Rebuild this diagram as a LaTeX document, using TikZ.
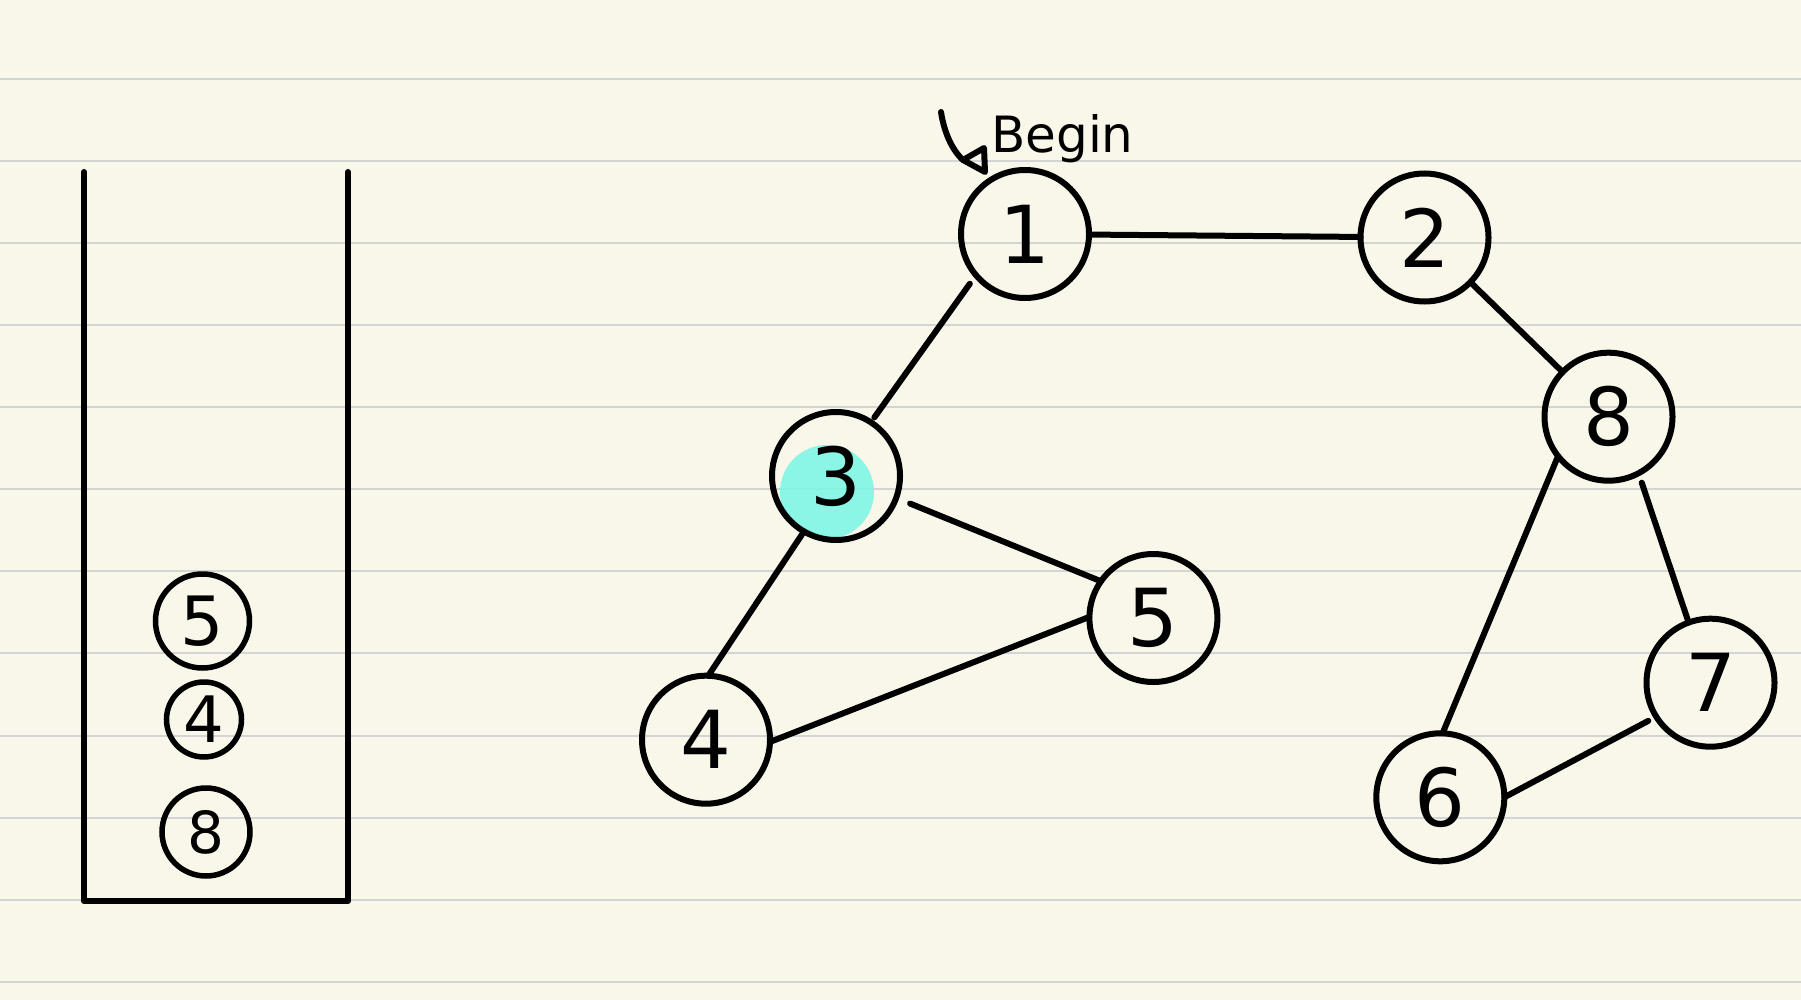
\documentclass[tikz,border=0pt]{standalone}
\usepackage{fontspec}
\setmainfont{DejaVu Sans}
\definecolor{paper}{RGB}{249,247,233}
\definecolor{rulecol}{RGB}{212,212,212}
\definecolor{mint}{RGB}{124,246,230}
\tikzset{
  vert/.style={circle, draw=black, line width=6pt, minimum size=128pt, inner sep=0pt, outer sep=0pt, font=\fontsize{80}{80}\selectfont},
  item/.style={circle, draw=black, line width=5.5pt, inner sep=0pt, outer sep=0pt},
  edge/.style={draw=black, line width=6pt, line cap=round, line join=round},
  rulerline/.style={draw=rulecol, line width=2.5pt},
  wall/.style={draw=black, line width=6pt, line cap=round, line join=round}
}
\begin{document}
\begin{tikzpicture}[x=1pt,y=-1pt]
\useasboundingbox (0,0) rectangle (1801,1000);
\fill[paper] (0,0) rectangle (1801,1000);
% ruled lines
\foreach \yy in {79,161,243,325,407,489,571,653,736,818,900,982}
  \draw[rulerline] (0,\yy) -- (1801,\yy);
% highlight on node 3
\fill[mint, opacity=0.88] (827,492) circle (47pt);
% stack
\draw[wall] (84,172) -- (84,901) -- (348,901) -- (348,172);
\node[item, minimum size=94pt, font=\fontsize{68}{68}\selectfont] (s5) at (202.5,621) {5};
\node[item, minimum size=75pt, font=\fontsize{64}{64}\selectfont] (s4) at (204,719.5) {4};
\node[item, minimum size=88pt, font=\fontsize{58}{58}\selectfont] (s8) at (206,832) {8};
% graph nodes
\node[vert] (n1) at (1025,234) {1};
\node[vert] (n2) at (1424.5,237.5) {2};
\node[vert] (n8) at (1608.5,416.7) {8};
\node[vert] (n3) at (836,476) {3};
\node[vert] (n5) at (1153.4,618) {5};
\node[vert] (n4) at (706,739.7) {4};
\node[vert] (n7) at (1710.5,682.7) {7};
\node[vert] (n6) at (1440.3,797.3) {6};
% edges
\draw[edge] (n1) -- (n2);
\draw[edge, shorten <=10.6pt, shorten >=6pt] (n1.220) -- (n3.57);
\draw[edge] (n2) -- (n8);
\draw[edge, shorten <=15pt] (n3.340) -- (n5.145);
\draw[edge] (n3.240) -- (n4.88);
\draw[edge] (n4.358) -- (n5.179);
\draw[edge] (n8.218) -- (n6.88);
\draw[edge, shorten <=10pt] (n8.298) -- (n7.110);
\draw[edge, shorten >=9pt] (n6.0) -- (n7.212);
% Begin label with hand arrow
\node[anchor=base west, inner sep=0pt, font=\fontsize{50}{50}\selectfont] (begin) at (991,153) {Begin};
\coordinate (arrowstart) at (941,112);
\coordinate (arrowend) at (963,160);
\draw[edge] (arrowstart) .. controls (944,132) and (952,150) .. (arrowend);
\draw[edge] (arrowend) -- (984,148) -- (985,172) -- cycle;
\end{tikzpicture}
\end{document}
